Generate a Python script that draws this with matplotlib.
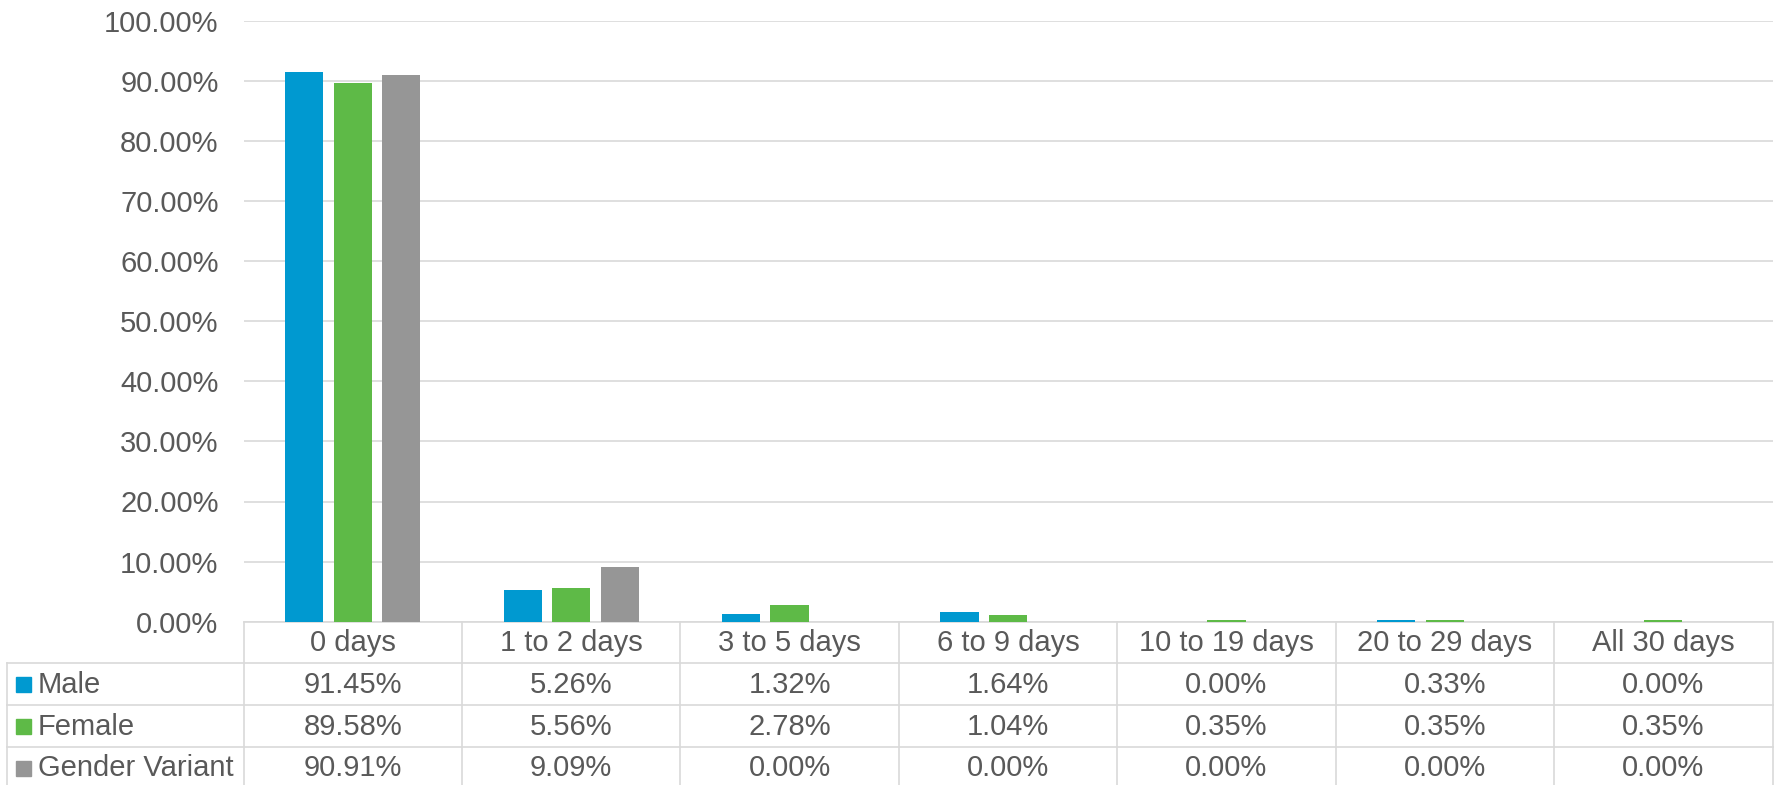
import numpy as np
import matplotlib.pyplot as plt
import matplotlib.transforms as mtransforms
from matplotlib.patches import Rectangle
from matplotlib.ticker import PercentFormatter

# --- data ---
categories = ["0 days", "1 to 2 days", "3 to 5 days", "6 to 9 days",
              "10 to 19 days", "20 to 29 days", "All 30 days"]
series_names = ["Male", "Female", "Gender Variant"]
male = [91.45, 5.26, 1.32, 1.64, 0.00, 0.33, 0.00]
female = [89.58, 5.56, 2.78, 1.04, 0.35, 0.35, 0.35]
gender_variant = [90.91, 9.09, 0.00, 0.00, 0.00, 0.00, 0.00]
colors = ["#0099D0", "#5EBA47", "#969696"]

TEXT = "#595959"
GRID = "#D9D9D9"
FS = 21
plt.rcParams['font.family'] = ['Liberation Sans', 'DejaVu Sans']

W, H = 1777, 785
fig = plt.figure(figsize=(W / 100, H / 100), dpi=100)
ax_l, ax_r, ax_b, ax_t = 243.5, 1772.5, 621.7, 20.7
ax = fig.add_axes([ax_l / W, 1 - ax_b / H, (ax_r - ax_l) / W, (ax_b - ax_t) / H])

x = np.arange(len(categories))
bw, step = 0.175, 0.222
all_series = [male, female, gender_variant]
for k, vals in enumerate(all_series):
    ax.bar(x + (k - 1) * step, vals, width=bw, color=colors[k], linewidth=0, zorder=3)

ax.set_xlim(-0.5, len(categories) - 0.5)
ax.set_ylim(0, 100)
ax.set_yticks(np.arange(0, 101, 10))
ax.yaxis.set_major_formatter(PercentFormatter(decimals=2))
ax.set_xticks([])
ax.tick_params(axis='y', length=0, pad=18, labelsize=FS, labelcolor=TEXT)
ax.grid(axis='y', color=GRID, linewidth=1.2, zorder=0)
for s in ax.spines.values():
    s.set_visible(False)

# --- data table below the plot ---
ax_h_px = ax_b - ax_t
row_h = 41.6 / ax_h_px
trans = mtransforms.blended_transform_factory(ax.transData, ax.transAxes)
n = len(categories)
lkw = dict(color=GRID, linewidth=1.2, clip_on=False)

# horizontal lines
ax.plot([-0.5, n - 0.5], [0, 0], transform=trans, **lkw)
label_left = -(ax_l - 7.3) / (ax_r - ax_l)
for r in range(1, 4):
    ax.plot([label_left, 1], [-r * row_h, -r * row_h], transform=ax.transAxes, **lkw)
# vertical lines
for i in range(n + 1):
    ax.plot([i - 0.5, i - 0.5], [0, -4.2 * row_h], transform=trans, **lkw)
ax.plot([label_left, label_left], [-row_h, -4.2 * row_h], transform=ax.transAxes, **lkw)

# header
for i, c in enumerate(categories):
    ax.text(i, -0.52 * row_h, c, transform=trans, ha='center', va='center',
            fontsize=FS, color=TEXT, clip_on=False)
# rows
px_w = 1.0 / (ax_r - ax_l)
for k, (name, vals) in enumerate(zip(series_names, all_series)):
    yc = -(k + 1.52) * row_h
    ax.add_patch(Rectangle((label_left + 8.7 * px_w, yc - 7.5 / ax_h_px), 15 * px_w, 15 / ax_h_px,
                           transform=ax.transAxes, color=colors[k], clip_on=False))
    ax.text(label_left + 30.5 * px_w, yc, name, transform=ax.transAxes, ha='left', va='center',
            fontsize=FS, color=TEXT, clip_on=False)
    for i, v in enumerate(vals):
        ax.text(i, yc, f"{v:.2f}%", transform=trans, ha='center', va='center',
                fontsize=FS, color=TEXT, clip_on=False)

fig.savefig("out.png", dpi=100)
